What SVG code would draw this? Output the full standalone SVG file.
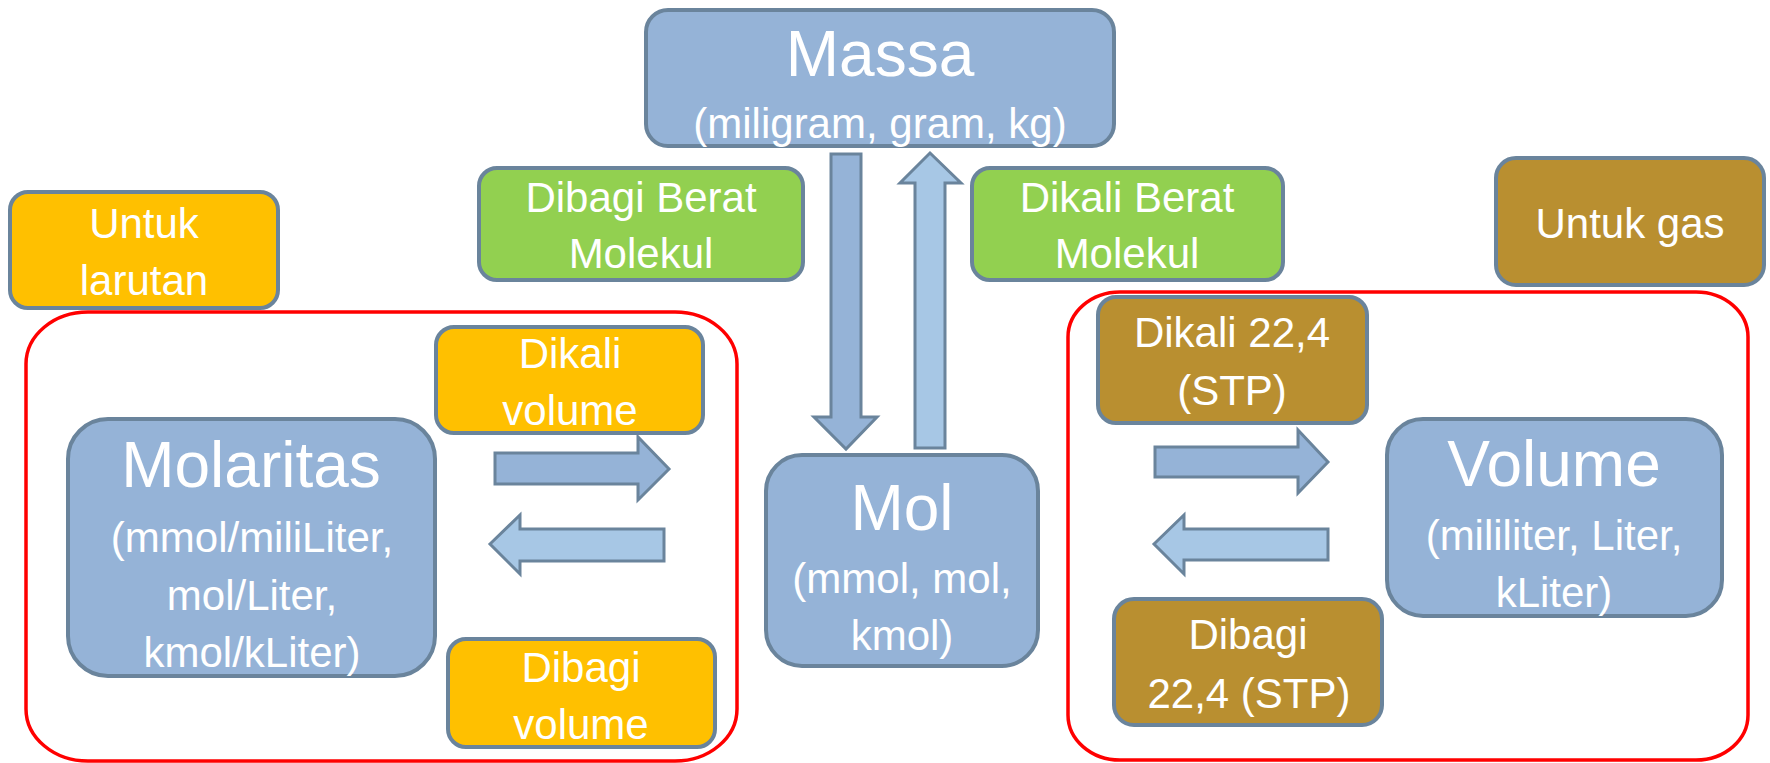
<svg xmlns="http://www.w3.org/2000/svg" width="1770" height="763" viewBox="0 0 1770 763">
<style>
.box{stroke:#6A849C;stroke-width:4}
.blue{fill:#95B3D7}
.orange{fill:#FFC000}
.green{fill:#92D050}
.brown{fill:#B98F30}
.red{fill:none;stroke:#FF0000;stroke-width:3.5}
.arr{stroke:#6A849C;stroke-width:3;stroke-linejoin:miter}
.arrA{fill:#95B3D7}
.arrB{fill:#A7C7E5}
text{font-family:"Liberation Sans",Arial,sans-serif;fill:#FFFFFF;text-anchor:middle}
.big{font-size:64px}
.med{font-size:42px}
</style>
<rect width="1770" height="763" fill="#FFFFFF"/>
<g id="group-larutan"><rect class="red" x="26" y="312" width="711" height="449" rx="62" ry="52"/></g>
<g id="group-gas"><rect class="red" x="1068" y="292" width="680" height="468" rx="52" ry="45"/></g>
<g id="massa">
<rect class="box blue" x="646" y="10" width="468" height="136" rx="22"/>
<text class="big" x="880" y="76">Massa</text>
<text class="med" x="880" y="138">(miligram, gram, kg)</text>
</g>
<g id="untuk-larutan">
<rect class="box orange" x="10" y="192" width="268" height="116" rx="18"/>
<text class="med" x="144" y="238">Untuk</text>
<text class="med" x="144" y="295">larutan</text>
</g>
<g id="dibagi-bm">
<rect class="box green" x="479" y="168" width="324" height="112" rx="18"/>
<text class="med" x="641" y="212">Dibagi Berat</text>
<text class="med" x="641" y="268">Molekul</text>
</g>
<g id="dikali-bm">
<rect class="box green" x="972" y="168" width="311" height="112" rx="18"/>
<text class="med" x="1127" y="212">Dikali Berat</text>
<text class="med" x="1127" y="268">Molekul</text>
</g>
<g id="untuk-gas">
<rect class="box brown" x="1496" y="158" width="268" height="127" rx="20"/>
<text class="med" x="1630" y="238">Untuk gas</text>
</g>
<g id="dikali-volume">
<rect class="box orange" x="436" y="327" width="267" height="106" rx="18"/>
<text class="med" x="570" y="368">Dikali</text>
<text class="med" x="570" y="425">volume</text>
</g>
<g id="dibagi-volume">
<rect class="box orange" x="448" y="639" width="267" height="108" rx="18"/>
<text class="med" x="581" y="682">Dibagi</text>
<text class="med" x="581" y="739">volume</text>
</g>
<g id="molaritas">
<rect class="box blue" x="68" y="419" width="367" height="257" rx="40"/>
<text class="big" x="251" y="487">Molaritas</text>
<text class="med" x="252" y="552">(mmol/miliLiter,</text>
<text class="med" x="252" y="610">mol/Liter,</text>
<text class="med" x="252" y="667">kmol/kLiter)</text>
</g>
<g id="mol">
<rect class="box blue" x="766" y="455" width="272" height="211" rx="36"/>
<text class="big" x="902" y="530">Mol</text>
<text class="med" x="902" y="593">(mmol, mol,</text>
<text class="med" x="902" y="650">kmol)</text>
</g>
<g id="volume">
<rect class="box blue" x="1387" y="419" width="335" height="197" rx="36"/>
<text class="big" x="1554" y="486">Volume</text>
<text class="med" x="1554" y="550">(mililiter, Liter,</text>
<text class="med" x="1554" y="607">kLiter)</text>
</g>
<g id="dikali-224">
<rect class="box brown" x="1098" y="297" width="269" height="126" rx="18"/>
<text class="med" x="1232" y="347">Dikali 22,4</text>
<text class="med" x="1232" y="405">(STP)</text>
</g>
<g id="dibagi-224">
<rect class="box brown" x="1114" y="599" width="268" height="126" rx="20"/>
<text class="med" x="1248" y="649">Dibagi</text>
<text class="med" x="1249" y="708">22,4 (STP)</text>
</g>
<g id="connectors">
<polygon class="arr arrA" points="831,154 861,154 861,417 877,417 846,449 814,417 831,417"/>
<polygon class="arr arrB" points="930,153 961,183 945,183 945,448 915,448 915,183 900,183"/>
<polygon class="arr arrA" points="495,453 638,453 638,437 669,469 638,500 638,484 495,484"/>
<polygon class="arr arrB" points="490,544 520,515 520,529 664,529 664,561 520,561 520,574"/>
<polygon class="arr arrA" points="1155,447 1298,447 1298,430 1328,462 1298,493 1298,477 1155,477"/>
<polygon class="arr arrB" points="1154,544 1184,515 1184,529 1328,529 1328,560 1184,560 1184,574"/>
</g>
</svg>
